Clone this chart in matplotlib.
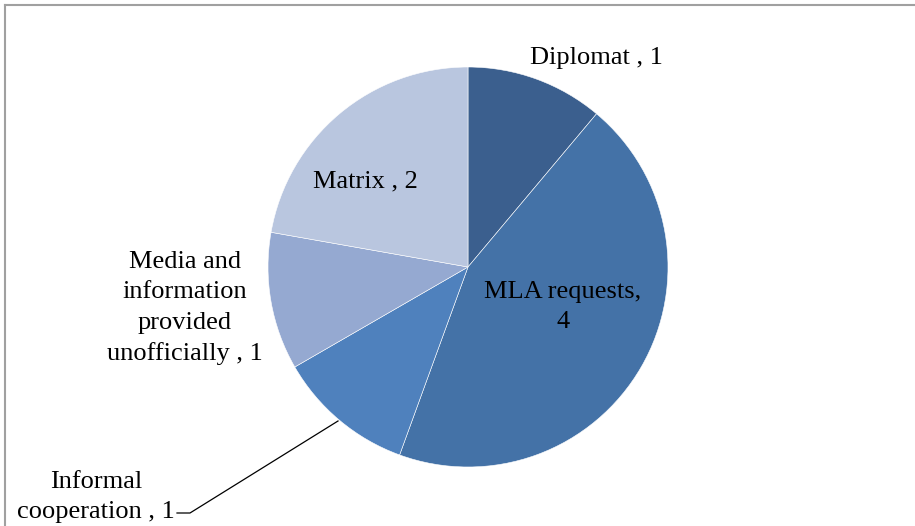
import matplotlib
matplotlib.use("Agg")
import matplotlib.pyplot as plt

categories = ["Diplomat", "MLA requests", "Informal\ncooperation", "Media and\ninformation\nprovided\nunofficially", "Matrix"]
counts = [1, 4, 1, 1, 2]
colors = ["#3B5F8E", "#4472A7", "#4F81BD", "#95A9D1", "#B9C6DF"]

W, H = 915, 526
fig = plt.figure(figsize=(W / 100, H / 100), dpi=100)
ax = fig.add_axes([0, 0, 1, 1])

plt.rcParams["font.family"] = ["Liberation Serif", "DejaVu Serif"]

ax.pie(counts, colors=colors, startangle=90, counterclock=False,
       center=(468, H - 267), radius=200, frame=True,
       wedgeprops=dict(edgecolor="white", linewidth=0.4))
ax.set_xlim(0, W)
ax.set_ylim(0, H)
ax.set_aspect("equal")
ax.axis("off")

# chart border (only top and left visible)
ax.plot([4.5, W], [H - 4.5, H - 4.5], color="#A0A0A0", lw=1.5)
ax.plot([4.5, 4.5], [0, H - 4.5], color="#A0A0A0", lw=1.5)

fs = 19
label_pos = [(596, 58), (563, 307), (96, 497), (185, 308), (365, 181)]
texts = [
    "Diplomat , 1",
    "MLA requests,\n4",
    "Informal\ncooperation , 1",
    "Media and\ninformation\nprovided\nunofficially , 1",
    "Matrix , 2",
]
for (x, y), t in zip(label_pos, texts):
    ax.text(x, H - y, t, ha="center", va="center", fontsize=fs,
            linespacing=1.5, family=["Liberation Serif", "DejaVu Serif"])

# leader line for Informal cooperation
ax.plot([177, 190, 338], [H - 513, H - 513, H - 421], color="black", lw=0.9)

fig.savefig("out.png", dpi=100)
